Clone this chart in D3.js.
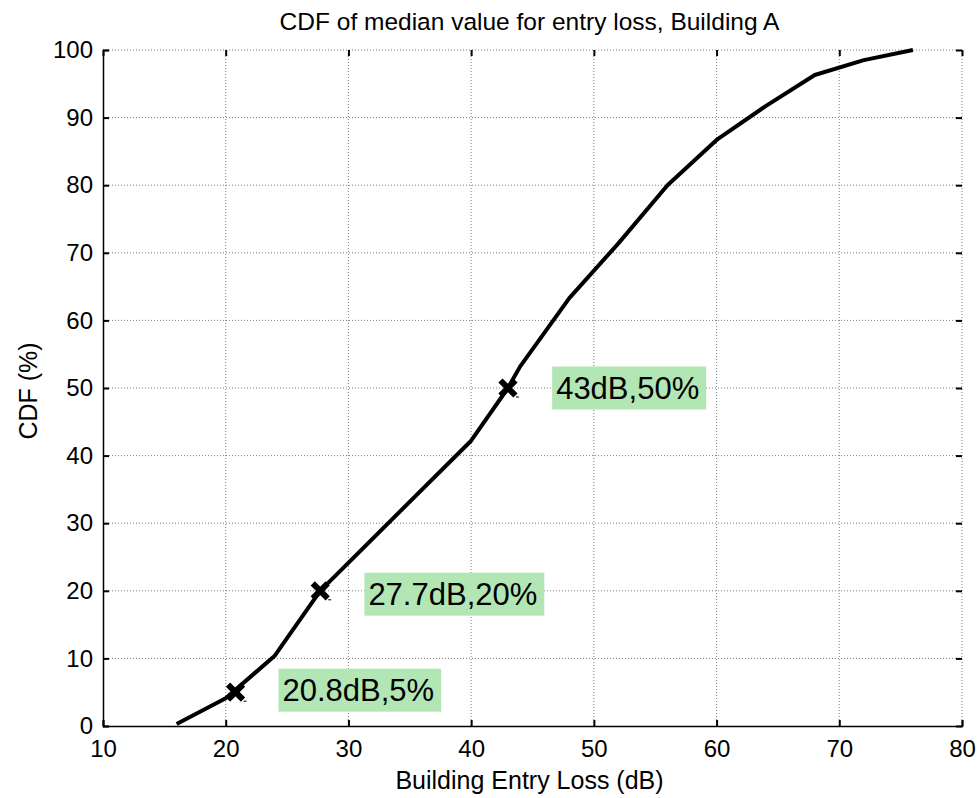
<!DOCTYPE html>
<html>
<head>
<meta charset="utf-8">
<script src="https://cdn.jsdelivr.net/npm/d3@7"></script>
<style>
  body { margin: 0; background: #fff; }
  text { font-family: "Liberation Sans", Arial, sans-serif; }
</style>
</head>
<body>
<div id="chart"></div>
<script>
// curve
const lossDb = [16, 20, 24, 27.7, 40, 43, 44, 48, 52, 56, 60, 64, 68, 72, 76];
const cdfPct = [0.3, 4.1, 10.4, 20, 42.2, 50, 53.2, 63.3, 71.4, 80, 86.7, 91.7, 96.3, 98.5, 100];

// marked points and their labels
const markX = [20.8, 27.7, 43];
const markY = [5, 20, 50];
const markText = ["20.8dB,5%", "27.7dB,20%", "43dB,50%"];
const labelX = [24.3, 31.3, 46.6];
const labelY = [5.3, 19.5, 50];

const xTicks = [10, 20, 30, 40, 50, 60, 70, 80];
const yTicks = [0, 10, 20, 30, 40, 50, 60, 70, 80, 90, 100];

const width = 978, height = 798;
const margin = {top: 50, right: 16, bottom: 72, left: 103};
const innerW = width - margin.left - margin.right;
const innerH = height - margin.top - margin.bottom;

const x = d3.scaleLinear().domain([10, 80]).range([0, innerW]);
const y = d3.scaleLinear().domain([0, 100]).range([innerH, 0]);

const svg = d3.select('#chart')
	.append('svg')
		.attr('width', width)
		.attr('height', height);
const g = svg.append('g')
	.attr('transform', `translate(${margin.left},${margin.top})`);

// grid
g.selectAll('.vgrid')
	.data(xTicks.slice(1, -1)).enter()
	.append('line')
	.attr('x1', d => x(d)).attr('x2', d => x(d))
	.attr('y1', 0).attr('y2', innerH)
	.attr('stroke', '#808080').attr('stroke-width', 1)
	.attr('stroke-dasharray', '1,2');
g.selectAll('.hgrid')
	.data(yTicks.slice(1, -1)).enter()
	.append('line')
	.attr('x1', 0).attr('x2', innerW)
	.attr('y1', d => y(d)).attr('y2', d => y(d))
	.attr('stroke', '#808080').attr('stroke-width', 1)
	.attr('stroke-dasharray', '1,2');
// top/right edges are dotted too
g.append('line').attr('x1', 0).attr('x2', innerW).attr('y1', 0).attr('y2', 0)
	.attr('stroke', '#808080').attr('stroke-dasharray', '1,2');
g.append('line').attr('x1', innerW).attr('x2', innerW).attr('y1', 0).attr('y2', innerH)
	.attr('stroke', '#808080').attr('stroke-dasharray', '1,2');

// axes with inward ticks
const tickLen = 6;
const xAxis = g.append('g')
	.attr('transform', `translate(0,${innerH})`)
	.call(d3.axisBottom(x).tickValues(xTicks).tickSize(-tickLen).tickPadding(14));
const yAxis = g.append('g')
	.call(d3.axisLeft(y).tickValues(yTicks).tickSize(-tickLen).tickPadding(10));
const topAxis = g.append('g')
	.call(d3.axisTop(x).tickValues(xTicks).tickSize(-tickLen).tickFormat(''));
const rightAxis = g.append('g')
	.attr('transform', `translate(${innerW},0)`)
	.call(d3.axisRight(y).tickValues(yTicks).tickSize(-tickLen).tickFormat(''));
[topAxis, rightAxis].forEach(a => {
	a.select('.domain').remove();
	a.selectAll('.tick line').attr('stroke', '#000').attr('stroke-width', 2);
});
[xAxis, yAxis].forEach(a => {
	a.select('.domain').attr('stroke', '#000').attr('stroke-width', 1.5);
	a.selectAll('.tick line').attr('stroke', '#000').attr('stroke-width', 2);
	a.selectAll('.tick text')
		.style('font-family', '"Liberation Sans", Arial, sans-serif')
		.style('font-size', '24px')
		.attr('fill', '#000');
});
xAxis.selectAll('.tick text').attr('dy', '0.71em');

// curve
const line = d3.line()
	.x((d, i) => x(lossDb[i]))
	.y(d => y(d));
g.append('path')
	.datum(cdfPct)
	.attr('fill', 'none')
	.attr('stroke', '#000')
	.attr('stroke-width', 4)
	.attr('stroke-linejoin', 'round')
	.attr('d', line);

// markers
const ms = 7.5;
const marks = g.selectAll('.mark')
	.data(markX).enter()
	.append('g')
	.attr('transform', (d, i) => `translate(${x(d)},${y(markY[i])})`);
marks.append('path')
	.attr('d', `M${-ms},${-ms}L${ms},${ms}M${-ms},${ms}L${ms},${-ms}`)
	.attr('stroke', '#000')
	.attr('stroke-width', 6);
marks.append('line')
	.attr('x1', 8).attr('x2', 11).attr('y1', 9).attr('y2', 9)
	.attr('stroke', '#000').attr('stroke-width', 1);

// labels
const labels = g.selectAll('.lbl')
	.data(markText).enter()
	.append('g')
	.attr('transform', (d, i) => `translate(${x(labelX[i])},${y(labelY[i])})`);
labels.append('text')
	.attr('x', 4)
	.attr('dy', '0.36em')
	.style('font-size', '31px')
	.attr('fill', '#000')
	.text(d => d);
labels.each(function() {
	const t = d3.select(this).select('text').node().getBBox();
	d3.select(this).insert('rect', 'text')
		.attr('x', 0).attr('y', -21.5)
		.attr('width', t.width + 11).attr('height', 43)
		.attr('fill', '#b3e6b5');
});

// title and axis labels
svg.append('text')
	.attr('x', margin.left + innerW / 2 - 3)
	.attr('y', 30)
	.attr('text-anchor', 'middle')
	.style('font-size', '24.5px')
	.text('CDF of median value for entry loss, Building A');
svg.append('text')
	.attr('x', margin.left + innerW / 2 - 3)
	.attr('y', 789)
	.attr('text-anchor', 'middle')
	.style('font-size', '25px')
	.text('Building Entry Loss (dB)');
svg.append('text')
	.attr('transform', `translate(37,${margin.top + innerH / 2 + 3}) rotate(-90)`)
	.attr('text-anchor', 'middle')
	.style('font-size', '25px')
	.text('CDF (%)');
</script>
</body>
</html>
